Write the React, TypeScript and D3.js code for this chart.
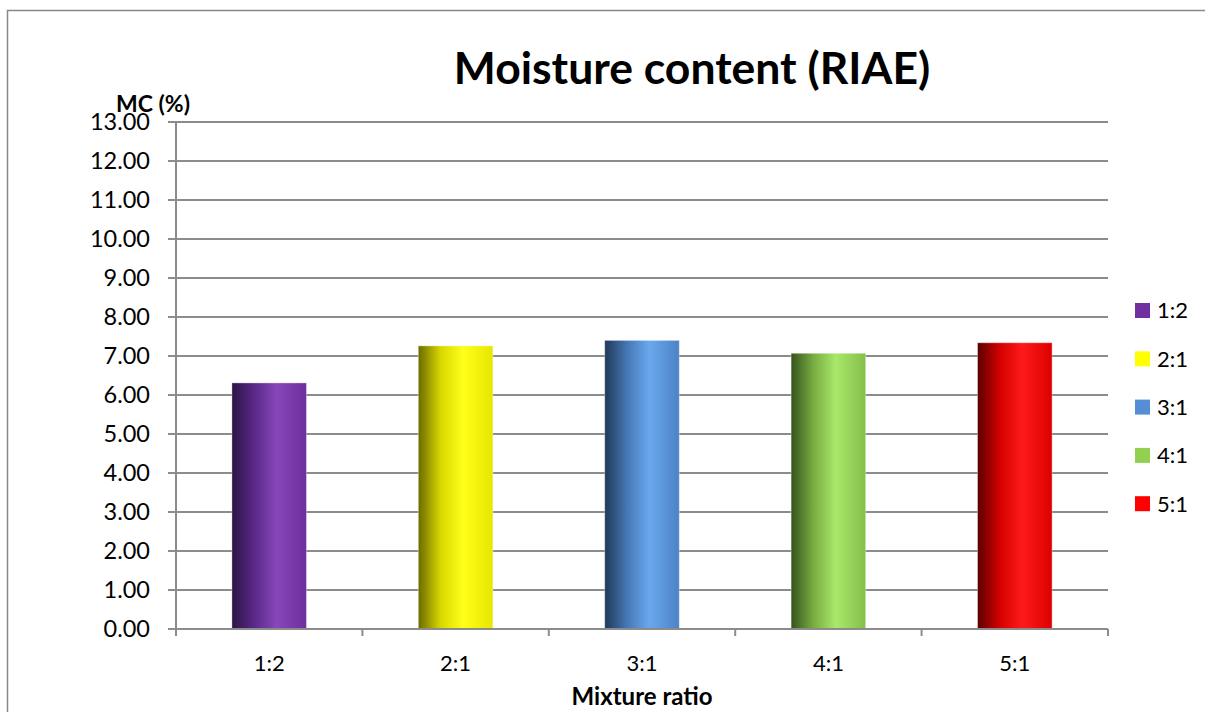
import React, { useEffect, useRef } from "react";
import * as d3 from "d3";

// Mixture ratios and their measured moisture content (%)
const categories = ["1:2", "2:1", "3:1", "4:1", "5:1"];
const moisture = [6.31, 7.26, 7.40, 7.07, 7.34];
const yTicks = [0, 1, 2, 3, 4, 5, 6, 7, 8, 9, 10, 11, 12, 13];

// Base colour plus the bevel gradient stops (left shadow, highlight, right edge)
const baseColors = ["#7030A0", "#FFFF00", "#558ED5", "#92D050", "#FF0000"];
const gradientStops = [
  ["#2c1442", "#5a2888", "#8747ba", "#6e2e9c"],
  ["#6a6a00", "#d8d800", "#ffff1a", "#e6e600"],
  ["#1f3857", "#4677b6", "#6aa8ee", "#4c82c6"],
  ["#35521d", "#78ad42", "#a9e86a", "#84bf4a"],
  ["#5a0000", "#d40000", "#ff1a1a", "#dc0000"],
];

const W = 1205;
const H = 712;
const FONT = "Lato, 'Open Sans', sans-serif";

export default function App() {
  const ref = useRef<SVGSVGElement | null>(null);

  useEffect(() => {
    const svg = d3.select(ref.current);
    svg.selectAll("*").remove();

    const left = 176, right = 1108, top = 122, bottom = 629;

    const x = d3.scaleBand<string>()
      .domain(categories)
      .range([left, right])
      .paddingInner(0.6)
      .paddingOuter(0.3);
    const cat = d3.scaleBand<string>().domain(categories).range([left, right]);
    const y = d3.scaleLinear().domain([0, 13]).range([bottom, top]);

    const defs = svg.append("defs");
    gradientStops.forEach((stops, i) => {
      const g = defs.append("linearGradient")
        .attr("id", `bar-grad-${i}`)
        .attr("x1", "0%").attr("x2", "100%").attr("y1", "0%").attr("y2", "0%");
      const offs = ["0%", "30%", "60%", "100%"];
      stops.forEach((c, k) => g.append("stop").attr("offset", offs[k]).attr("stop-color", c));
    });

    // Outer chart frame
    svg.append("rect")
      .attr("x", 7.5).attr("y", 10.5)
      .attr("width", 1300).attr("height", 800)
      .attr("fill", "none").attr("stroke", "#888").attr("stroke-width", 1.5);

    // Title
    svg.append("text")
      .attr("x", 692).attr("y", 84)
      .attr("text-anchor", "middle")
      .attr("font-family", FONT).attr("font-weight", "bold").attr("font-size", 44.5)
      .attr("fill", "#000")
      .text("Moisture content (RIAE)");

    // Horizontal gridlines
    svg.append("g").selectAll("line").data(yTicks.filter(t => t > 0)).join("line")
      .attr("x1", left).attr("x2", right)
      .attr("y1", d => y(d)).attr("y2", d => y(d))
      .attr("stroke", "#8c8c8c").attr("stroke-width", 2);

    // Bars
    svg.append("g").selectAll("rect").data(moisture).join("rect")
      .attr("x", (_, i) => x(categories[i])!)
      .attr("width", x.bandwidth())
      .attr("y", d => y(d))
      .attr("height", d => bottom - y(d))
      .attr("fill", (_, i) => `url(#bar-grad-${i})`)
      .attr("stroke", "rgba(255,255,255,0.35)")
      .attr("stroke-width", 1);

    // Y axis
    const yAxis = svg.append("g");
    yAxis.append("line")
      .attr("x1", left).attr("x2", left).attr("y1", top).attr("y2", bottom)
      .attr("stroke", "#8c8c8c").attr("stroke-width", 2);
    yAxis.selectAll("line.tick").data(yTicks).join("line")
      .attr("class", "tick")
      .attr("x1", left - 8).attr("x2", left)
      .attr("y1", d => y(d)).attr("y2", d => y(d))
      .attr("stroke", "#8c8c8c").attr("stroke-width", 2);
    yAxis.selectAll("text").data(yTicks).join("text")
      .attr("x", 150).attr("y", d => y(d))
      .attr("dy", "0.36em")
      .attr("text-anchor", "end")
      .attr("font-family", FONT).attr("font-size", 23.5).attr("fill", "#000")
      .text(d => d3.format(".2f")(d));

    svg.append("text")
      .attr("x", 116).attr("y", 112)
      .attr("font-family", FONT).attr("font-weight", "bold").attr("font-size", 23)
      .attr("fill", "#000")
      .text("MC (%)");

    // X axis
    const xAxis = svg.append("g");
    xAxis.append("line")
      .attr("x1", left).attr("x2", right).attr("y1", bottom).attr("y2", bottom)
      .attr("stroke", "#8c8c8c").attr("stroke-width", 2);
    const bounds = categories.map(c => cat(c)!).concat([right]);
    xAxis.selectAll("line.tick").data(bounds).join("line")
      .attr("class", "tick")
      .attr("x1", d => d).attr("x2", d => d)
      .attr("y1", bottom).attr("y2", bottom + 7)
      .attr("stroke", "#8c8c8c").attr("stroke-width", 2);
    xAxis.selectAll("text").data(categories).join("text")
      .attr("x", d => cat(d)! + cat.bandwidth() / 2)
      .attr("y", 671)
      .attr("text-anchor", "middle")
      .attr("font-family", FONT).attr("font-size", 22).attr("fill", "#000")
      .text(d => d);

    svg.append("text")
      .attr("x", 642).attr("y", 705)
      .attr("text-anchor", "middle")
      .attr("font-family", FONT).attr("font-weight", "bold").attr("font-size", 24)
      .attr("fill", "#000")
      .text("Mixture ratio");

    // Legend
    const legend = svg.append("g");
    const item = legend.selectAll("g").data(categories).join("g")
      .attr("transform", (_, i) => `translate(1135, ${310.5 + i * 48.3})`);
    item.append("rect")
      .attr("x", 0).attr("y", -7.5).attr("width", 15).attr("height", 15)
      .attr("fill", (_, i) => baseColors[i]);
    item.append("text")
      .attr("x", 22).attr("y", 0).attr("dy", "0.36em")
      .attr("font-family", FONT).attr("font-size", 22).attr("fill", "#000")
      .text(d => d);
  }, []);

  return (
    <svg
      ref={ref}
      width={W}
      height={H}
      style={{ position: "absolute", left: 0, top: 0, background: "#fff" }}
    />
  );
}
